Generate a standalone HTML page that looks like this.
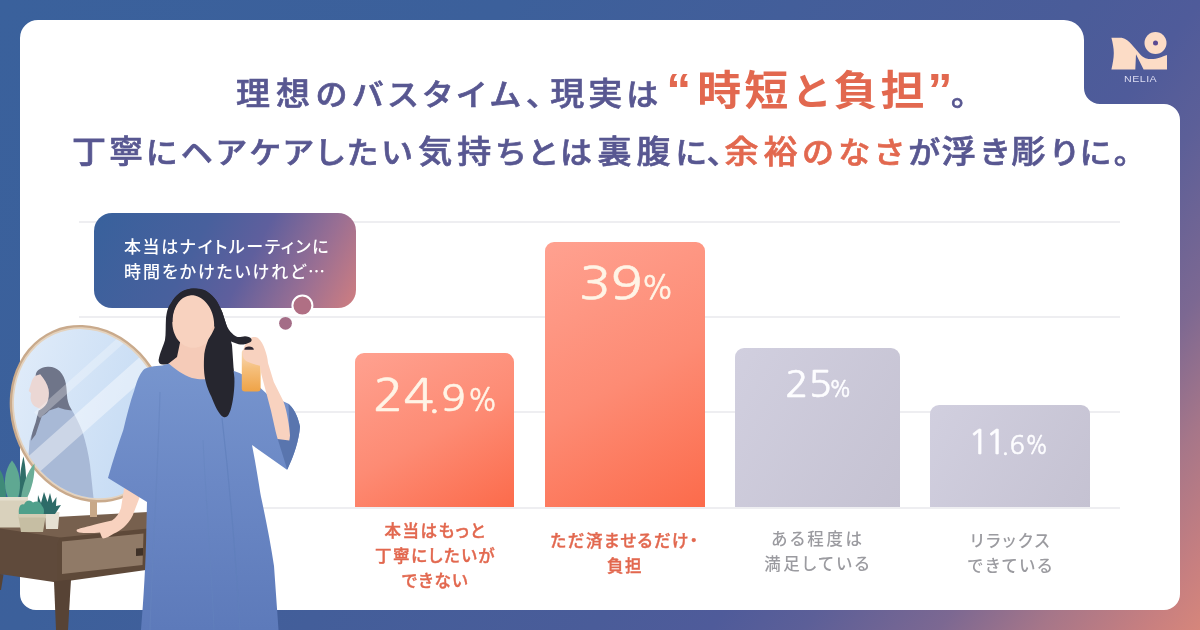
<!DOCTYPE html>
<html lang="ja">
<head>
<meta charset="utf-8">
<title>NELIA バスタイム調査</title>
<style>
*{margin:0;padding:0;box-sizing:border-box}
html,body{width:1200px;height:630px;overflow:hidden}
body{position:relative;font-family:"Liberation Sans","Noto Sans CJK JP",sans-serif;
background:linear-gradient(128deg,#3a619c 0%,#3c609b 30%,#4a5c99 64%,#4f5b9a 71%,#5c5f98 76.5%,#7c6892 84.5%,#a67689 90.5%,#c77f80 96.6%,#d6867b 100%);}
#stage{position:absolute;left:0;top:0;width:1200px;height:630px;overflow:hidden}
svg.layer{position:absolute;left:0;top:0}
.title{position:absolute;white-space:nowrap;color:#585791;-webkit-text-stroke:0.7px currentColor;font-weight:500;font-size:34px;letter-spacing:5px;font-feature-settings:"palt";line-height:1}
.title .o{color:#e2684f}
.title .k{font-size:32px;letter-spacing:2.7px}
.title .big{font-size:44px;letter-spacing:3px;font-weight:700;-webkit-text-stroke:0}
.title{transform:scaleY(.94);transform-origin:0 100%}
.title .bk{font-size:40px;letter-spacing:6px}
.title .q{font-size:50px;letter-spacing:0;font-weight:700;-webkit-text-stroke:0;font-family:'Liberation Sans',sans-serif;position:relative;top:1px;line-height:0}
#t1{left:236px;top:68px}
#t2{left:72px;top:134px}
.grid{position:absolute;left:79px;width:1041px;height:2px;background:#eeeef1}
.bar{position:absolute;border-radius:9px 9px 0 0}
.bar.or{background:linear-gradient(152deg,#ffa190 0%,#fd8b74 52%,#fc6b4b 100%)}
.bar.gr{background:linear-gradient(120deg,#d1cfdf 0%,#c5c2d2 100%)}
.val{position:absolute;display:block;white-space:nowrap;line-height:1;transform-origin:0 0;color:#fff4e6;-webkit-text-stroke:.55px currentColor;font-family:"NanumGothic","Liberation Sans",sans-serif}
.val.w{color:#fdfdff}
.lab{position:absolute;text-align:center;white-space:nowrap;font-size:16.5px;line-height:25px;letter-spacing:1.5px;font-weight:500;-webkit-text-stroke:.4px currentColor;color:#e2684f;font-feature-settings:"palt"}
.lab.g{color:#9b9ba0;font-weight:500;-webkit-text-stroke:0}
#bubble{position:absolute;left:94px;top:213px;width:262px;height:95px;border-radius:18px;
background:linear-gradient(118deg,#38619c 0%,#48609d 38%,#5f5f9d 58%,#9a6f93 80%,#d07e80 100%)}
#btext{position:absolute;left:124px;top:234.5px;color:#fff;font-size:17px;line-height:25px;letter-spacing:1.6px;white-space:nowrap;font-feature-settings:"palt";font-weight:500}
#nelia{position:absolute;left:1123.5px;top:75px;font-size:8.5px;letter-spacing:.4px;color:#dcdcf2;line-height:1;font-family:"Liberation Sans",sans-serif;transform-origin:0 0;transform:scaleX(1.25)}
</style>
</head>
<body>
<div id="stage">
<!-- card -->
<svg class="layer" width="1200" height="630" viewBox="0 0 1200 630">
<path d="M38,20 H1064 A20,20 0 0 1 1084,40 V88 A16,16 0 0 0 1100,104 H1164 A16,16 0 0 1 1180,120 V594 A16,16 0 0 1 1164,610 H36 A16,16 0 0 1 20,594 V38 A18,18 0 0 1 38,20 Z" fill="#fff"/>
</svg>

<div class="title" id="t1"><span style="letter-spacing:6px">理想</span><span class="k" style="letter-spacing:5.8px">のバスタイム</span><span class="k" style="letter-spacing:8px">、</span><span style="letter-spacing:4px">現実</span><span class="k" style="letter-spacing:8px">は</span><span class="o"><span class="q" style="letter-spacing:6px">“</span><span class="big">時短<span class="bk" style="margin-left:3px">と</span>負担</span><span class="q" style="margin-left:0px">”</span></span><span class="k" style="margin-left:-2px">。</span></div>
<div class="title" id="t2"><span style="letter-spacing:3px">丁寧</span><span class="k" style="letter-spacing:3.6px">にヘアケアしたい</span><span style="margin-left:3px">気持</span><span class="k" style="letter-spacing:3.6px">ちとは</span><span style="margin-left:2px">裏腹</span><span class="k" style="letter-spacing:1.5px">に、</span><span class="o">余裕<span class="k" style="letter-spacing:5px">のなさ</span></span><span class="k" style="letter-spacing:2px">が</span>浮<span class="k" style="letter-spacing:3px">き</span>彫<span class="k">りに。</span></div>

<div class="grid" style="top:221px"></div>
<div class="grid" style="top:315.5px"></div>
<div class="grid" style="top:410.5px"></div>
<div class="grid" style="top:506.5px"></div>

<div class="bar or" style="left:355px;top:353px;width:159px;height:154px"></div>
<div class="bar or" style="left:545px;top:242px;width:160px;height:265px"></div>
<div class="bar gr" style="left:735px;top:348px;width:165px;height:159px"></div>
<div class="bar gr" style="left:930px;top:405px;width:160px;height:102px"></div>

<div class="vg" id="v1"><span class="val" id="v1a" style="left:373.2px;top:373.1px;font-size:45.7px;transform:scaleX(1.1)">24</span><span class="val" id="v1b" style="left:428.3px;top:379.9px;font-size:36px;letter-spacing:.9px;transform:scaleX(1.12)">.9<span style="display:inline-block;font-size:.87em;letter-spacing:0;transform:scaleX(.8);transform-origin:0 50%">%</span></span></div>
<div class="vg" id="v2"><span class="val" id="v2a" style="left:578.5px;top:261.4px;font-size:44.1px;transform:scaleX(1.19)">39</span><span class="val" id="v2b" style="left:641.2px;top:271.8px;font-size:32.9px;transform:scaleX(0.921)">%</span></div>
<div class="vg" id="v3"><span class="val w" id="v3a" style="left:784.5px;top:367.3px;font-size:35.5px;transform:scaleX(1.097)">25</span><span class="val w" id="v3b" style="left:828.5px;top:376.7px;font-size:23.7px;transform:scaleX(0.877)">%</span></div>
<div class="vg" id="v4"><span class="val w" id="v4a" style="left:968.2px;top:424.8px;font-size:34.7px;letter-spacing:-4px;transform:scaleX(1.02)">11</span><span class="val w" id="v4b" style="left:1001.6px;top:433.6px;font-size:24.9px;letter-spacing:.6px;transform:scaleX(1.0)">.6<span style="display:inline-block;letter-spacing:0;transform:scaleX(.86);transform-origin:0 50%">%</span></span></div>

<div class="lab" id="l1" style="left:335.5px;width:200px;top:519px">本当はもっと<br>丁寧にしたいが<br>できない</div>
<div class="lab" id="l2" style="left:525px;width:200px;top:529px">ただ済ませるだけ・<br>負担</div>
<div class="lab g" id="l3" style="left:718px;width:200px;top:527px;letter-spacing:2.6px">ある程度は<br>満足している</div>
<div class="lab g" id="l4" style="left:911px;width:200px;top:529px;letter-spacing:2.3px">リラックス<br>できている</div>

<div id="bubble"></div>
<div id="btext">本当はナイトルーティンに<br><span style="letter-spacing:1.95px">時間をかけたいけれど</span><span style="font-family:'Noto Sans CJK JP',sans-serif;letter-spacing:0;line-height:0">…</span></div>

<!-- ILLUSTRATION -->
<svg class="layer" id="illust" width="1200" height="630" viewBox="0 0 1200 630">
<defs>
<linearGradient id="gGlass" x1="0" y1="0" x2="1" y2="1"><stop offset="0" stop-color="#e4eefa"/><stop offset="1" stop-color="#bdd6f2"/></linearGradient>
<linearGradient id="gDress" x1="0" y1="0" x2="0" y2="1"><stop offset="0" stop-color="#7795ce"/><stop offset="0.45" stop-color="#6b88c5"/><stop offset="1" stop-color="#5d7aba"/></linearGradient>
<linearGradient id="gBottle" x1="0" y1="0" x2="0" y2="1"><stop offset="0" stop-color="#f9dcc0"/><stop offset="0.45" stop-color="#f5bf7c"/><stop offset="1" stop-color="#efa347"/></linearGradient>
<clipPath id="cGlass"><ellipse cx="89.5" cy="413.7" rx="73.2" ry="86.7" transform="rotate(-24 89.5 413.7)"/></clipPath>
</defs>

<!-- thought bubble dots -->
<circle cx="302.4" cy="305.6" r="10" fill="#b06f84" stroke="#fff" stroke-width="2"/>
<circle cx="285.5" cy="323.3" r="6.4" fill="#a46d87"/>

<!-- dresser -->
<rect x="78" y="503" width="80" height="7" fill="#fff"/>
<path d="M0,520 L148,512 L148,530 L60.3,539 L0,530 Z" fill="#77604e"/>
<path d="M0,528.5 L60.3,537.5 L60.3,583 L57,582.5 L0,574 Z" fill="#5f4a3b"/>
<path d="M60,537.5 L148,528.5 L146,570 L57,582.5 L57,545 Z" fill="#5e4939"/>
<path d="M62,541.5 L143.5,533.5 L142.5,565 L62,574 Z" fill="#907a67"/>
<path d="M136,548.6 L143,548 L143,555.5 L136,556 Z" fill="#3f3128"/>
<path d="M54,581.5 L71,579.5 L68,630 L56,630 Z" fill="#574335"/>
<path d="M0,574 L3.5,574.5 L1,590 L0,590 Z" fill="#574335"/>

<!-- mirror -->
<rect x="90" y="500" width="7" height="17" fill="#c8a888"/>
<ellipse cx="89.5" cy="413.7" rx="77.4" ry="90.9" transform="rotate(-24 89.5 413.7)" fill="#c9aa8c"/>
<ellipse cx="89.5" cy="413.7" rx="75" ry="88.5" transform="rotate(-24 89.5 413.7)" fill="#e4d2bd"/>
<ellipse cx="89.5" cy="413.7" rx="73.2" ry="86.7" transform="rotate(-24 89.5 413.7)" fill="url(#gGlass)"/>
<g clip-path="url(#cGlass)">
  <!-- reflection dress -->
  <path d="M43,410.5 L58,407.5 L70.4,407.5 C75,415 79,423 82.4,431.6 C86,443 88.5,454 90,464.8 L93.5,498 L60,500 L28,462 L29.6,440.7 C32,433 35,426 38.7,419.6 Z" fill="#a8b9d6"/>
  <!-- reflection face -->
  <path d="M40,373 C36,374 33,377.5 31.5,382 L28.7,391 L31,393 L30.5,398 C31,403 33.5,406.5 37.2,407.5 L43.2,410.5 L52,409 L51,380 Z" fill="#ebd7d4"/>
  <!-- reflection hair -->
  <path d="M47.7,366.8 C52.5,366.5 57,368.5 59.8,371.3 C63,375 65,379 65.8,383.4 C66.8,388.5 66.8,393.5 67.3,398.5 C68,403 69.8,407 71.9,410.5 C67,410 62.5,409 58.3,407.5 L49.2,410.5 C47.5,413 44,415 41.7,416.6 C39.5,423 37.5,429 35.6,434.7 L31,440.7 C31.5,434.5 33.5,428.5 35.6,422.6 C36.5,418.5 37.6,414.5 38.7,410.5 C42,409 45,406.5 47,403 C48.8,399 49.4,394 48.6,389.5 C47.6,384 44,379 40.2,374.3 L35.6,375.8 C36,372.5 37,371 38.7,369.8 C41.5,367.8 44.5,367 47.7,366.8 Z" fill="#6f7589"/>
  <!-- light streaks -->
  <path d="M160,339 L174,352 L39.2,472.3 L25.1,459.2 Z" fill="#ffffff" opacity="0.42"/>
  <path d="M140,318 L146,323.5 L40,418 L34,412.5 Z" fill="#ffffff" opacity="0.28"/>
</g>

<!-- big plant -->
<path d="M0,498 L0,470 C3,474 6,484 6,498 Z" fill="#3f8a78"/>
<path d="M19,498 C19,480 21,466 23.5,456.5 C26,468 27,482 25,498 Z" fill="#2f6e68"/>
<path d="M21,498 C23,484 27,472 34.5,463.5 C35,476 32,488 27,498 Z" fill="#6aad97"/>
<path d="M8,498 C3,486 4,470 12,460.5 C20,470 22,485 18,498 Z" fill="#5fa892"/>
<path d="M0,497 L28,497 L24,527.5 L0,527.5 Z" fill="#d9d1bc"/>
<path d="M0,497 L28,497 L27.5,500.5 L0,500.5 Z" fill="#e5dfce"/>
<!-- small pots -->
<path d="M45,512 L59.5,512 L58,529 L46,529 Z" fill="#e5e0d2"/>
<path d="M37,512 L38,495 L41,503 L44,492 L47.5,502 L50,493 L52.5,503 L56.5,497 L56,506 L61,505 L55,514 L40,514 Z" fill="#2d6b68"/>
<path d="M19,515 C18,508 20,503 24,504.5 C26,500 30,499 33,502.5 C37,500 41,502 42,506 C44,508 44.5,511 43.5,515 Z" fill="#4fa08b"/>
<path d="M18,514 L46,514 L43,532 L21,532 Z" fill="#c6bea3"/>
<path d="M18,514 L46,514 L45.5,517.5 L18.5,517.5 Z" fill="#d3ccb4"/>

<!-- left arm & hand -->
<path d="M125,483 L121,508 C119,514 116,518 112,520.5 C106,522 100,523 95,524.5 C88,526.5 81,528 77,529.5 C76,531 77,532 79,532.5 C86,533.5 94,533 100,532.5 C101,535 101.5,537.5 103,538.5 C106,538.5 110,536 114,533.5 C120,531 128,525 132.7,515.4 L139,499 L141,488 Z" fill="#f8d2bf"/>

<!-- hair back -->
<path d="M193.8,288.6 C199,288 204,289.5 207,291.4 C211,294 214,297 216.7,301 C219,305 221,309 222.4,312.4 L226,323.8 L232,345 L233.8,371.4 L203,371 L176,364.5 L163,364.5 C160,364.5 158.5,363 158.6,360 C160,352 163,347 165,340 C166,334 165.5,326 166,318 C167,310 168.5,306 171,303 C175,296 181,291.5 186,290 C189,289 191,288.6 193.8,288.6 Z" fill="#26262f"/>
<!-- neck / chest -->
<path d="M181,338 L177,357 L168,364 L176,380 L215,382 L216,338 Z" fill="#f5cbb8"/>
<!-- dress -->
<path d="M169,363.8 C175,369 183,375 192,378 C198,379.5 203,379.5 207,379 L220,376 L234,371 C245,374 256,384 267,394 L288.5,403.8 C293,408 297.4,414 300,426.6 C299,440 294,456 287,469.7 L252,445 C256,465 259,485 261,496.7 C266,520 271,545 274,566 L278.5,630 L141,630 C143.5,600 146,560 146.3,530.5 L147,502 L108,478 C113,460 118,445 123.3,430 C127,415 130,402 134.4,390 C137,381 139,375 143.3,370 C147,366.5 155,366 162,365.5 Z" fill="url(#gDress)"/>
<!-- sleeve inner (dark) -->
<path d="M277,436.8 L289.8,439.3 L288.5,403.8 C293,408 297.4,414 300,426.6 C299,440 294,456 287.3,469.7 Z" fill="#5975ae"/>
<!-- fold lines -->
<path d="M222,418 C228,470 236,560 240,630" stroke="#5f7fbb" stroke-width="1.2" fill="none" opacity=".7"/>
<path d="M160,392 C158,470 152,560 150,630" stroke="#6584be" stroke-width="1.2" fill="none" opacity=".6"/>
<path d="M203,440 C206,500 212,580 214,630" stroke="#6483be" stroke-width="1" fill="none" opacity=".5"/>
<!-- face -->
<path d="M191,295 C180,295 172.5,307 172.3,321 C172,336 181,347.8 193.5,347.8 C205,347.8 214.2,338 214.2,324.5 C214.2,309 203.5,295 191,295 Z" fill="#f8d2bf"/>
<circle cx="214.6" cy="329.5" r="3" fill="#f5c9b5"/>
<!-- bottle -->
<rect x="241.8" y="349.5" width="18.8" height="42" rx="3.2" fill="url(#gBottle)"/>
<!-- right arm + hand -->
<path d="M253,337 C250.5,337.5 247.5,340 245.5,344 C243.5,348 242.5,352 243,356 C243.3,358.5 245,360.5 247,361.5 C251,363.5 256,365 260,365.8 L261.4,374.5 L266,391.7 L271,410.7 L275.7,431.7 L277.6,439 L289.3,440.5 L290,435.5 C289.5,430 289,425 288,420 C287,413 285.5,407 283.3,401 L273.8,382 L268,363 C267.5,358 266.5,354 265,349.8 C263.5,345 261,340.5 258,338 C256.5,337 254.5,336.8 253,337 Z" fill="#f8d2bf"/>
<path d="M244.3,349.8 C244.3,347.4 246.5,346.4 249,346.4 C251.5,346.4 253.8,347.4 253.8,349.8 Z" fill="#2b2530"/>
<!-- hair front -->
<path d="M205,290.5 C209,292.5 214,297 216.7,301 C219,305 221,309 222.4,312.4 L226,323.8 C227.5,328 229.5,331 232,333.3 C234,335.5 236,336.8 237.6,337 C240,337.3 243,336.2 245,336.2 C247.5,336.2 250.5,337 251.5,339.2 C252,340.8 251,342 249.5,342.5 C247.5,343.6 245.5,344.3 243.5,344.5 C240.5,344.8 238,344.2 235.7,343.3 L231,341.5 C230.6,343 230.5,344.5 230.5,346 C231,351 231.5,357 232,362 C233,367 234,373 234.4,378 C234.6,383 234.3,389 233.7,393.5 C233.2,398 232.6,402 231.6,406 C231,409 230,412 228.9,414 C227.5,416.8 225.5,417.6 223.5,417 C221,416 218.8,412.5 217,409.4 C215,405.5 213,401 211.4,396.7 C209,392 207,387 205.9,382.4 C204.8,378 204.2,374 204,369.7 C203.8,364 203.9,359 204.3,353.8 C205,349 206.5,344 208.3,339.5 C210.5,336 213,332 214.5,328 C215.5,321 214,312 210,304 C207,298 203,294 198,292 Z" fill="#26262f"/>
<!-- hair top cap (hairline) -->
<path d="M193.8,288.6 C186,288.5 178,292 172.5,301 C169,307 167.5,313 167,320 L172.5,322 C172.5,312 176,303 183,298 C189,294.5 196,294 202,297 L210,304 L214,300 C210,293 202,288.6 193.8,288.6 Z" fill="#26262f"/>

</svg>

<svg class="layer" id="logo" width="1200" height="630" viewBox="0 0 1200 630">
<path d="M1111.4,37.8 L1121.7,37.8 C1126,39 1129,41.5 1131,43.8 C1134,47 1136.5,50 1139,53 C1141,55.5 1143,57.3 1145.5,58.2 C1148,59 1151,59.2 1153.5,59 C1156.5,58.8 1159,58.2 1161,57.3 C1163,56.5 1165,55.6 1167,55 L1167,69.6 L1143.6,69.6 L1136,54.3 L1135.3,69.6 L1111.4,69.6 C1112.7,64 1113.8,58 1113.8,53 C1113.8,48 1112.7,43 1111.4,37.8 Z" fill="#fcdcc6"/>
<circle cx="1155.5" cy="43" r="11" fill="#fcdcc6"/>
<circle cx="1155.5" cy="43" r="2.5" fill="#5b4a92"/>
</svg>
<div id="nelia">NELIA</div>
</div>
</body>
</html>
